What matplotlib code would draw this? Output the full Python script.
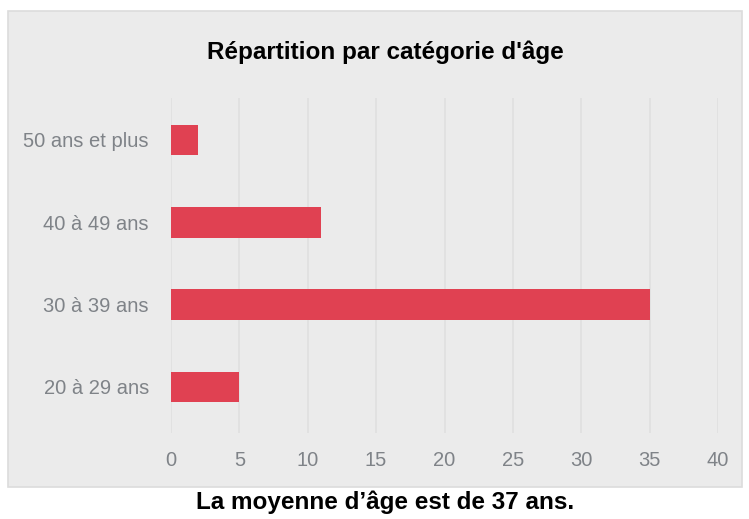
import matplotlib
matplotlib.use("Agg")
import matplotlib.pyplot as plt
from matplotlib import font_manager
from matplotlib.patches import Rectangle

categories = ["20 à 29 ans", "30 à 39 ans", "40 à 49 ans", "50 ans et plus"]
values = [5, 35, 11, 2]
xticks = [0, 5, 10, 15, 20, 25, 30, 35, 40]
title = "Répartition par catégorie d'âge"
caption = "La moyenne d’âge est de 37 ans."

names = {f.name for f in font_manager.fontManager.ttflist}
fam = "Liberation Sans Narrow" if "Liberation Sans Narrow" in names else "Liberation Sans"
plt.rcParams['font.family'] = [fam, 'DejaVu Sans']

W, H = 749, 519
fig = plt.figure(figsize=(W / 100, H / 100), dpi=100)
fig.patch.set_facecolor("white")

bg = fig.add_axes([0, 0, 1, 1], zorder=-5)
bg.set_xlim(0, W)
bg.set_ylim(H, 0)
bg.axis("off")
bg.add_patch(Rectangle((8, 11), 742 - 8, 487 - 11, facecolor="#EBEBEB",
                       edgecolor="#DCDCDC", linewidth=1.2))

ax = fig.add_axes([171 / W, 1 - 433 / H, (718 - 171) / W, (433 - 98) / H], zorder=1)
ax.patch.set_alpha(0)
ax.barh(range(len(categories)), values, height=0.37, color="#E04152", zorder=3)
ax.set_xlim(0, 40)
ax.set_ylim(-0.56, 3.51)
ax.set_xticks(xticks)
ax.set_yticks(range(len(categories)))
ax.set_yticklabels(categories)
ax.grid(axis="x", color="#E0E0E0", linewidth=1.2, zorder=0)
for s in ax.spines.values():
    s.set_visible(False)
ax.tick_params(axis="both", length=0, labelsize=14.5, labelcolor="#7F8388")
ax.tick_params(axis="x", pad=13)
ax.tick_params(axis="y", pad=16)

fig.text(385 / W, 1 - 52 / H, title, ha="center", va="center", fontsize=17.5,
         fontweight="bold", color="black")
fig.text(385 / W, 1 - 502 / H, caption, ha="center", va="center", fontsize=17.5,
         fontweight="bold", color="black")

fig.savefig("out.png", dpi=100)
